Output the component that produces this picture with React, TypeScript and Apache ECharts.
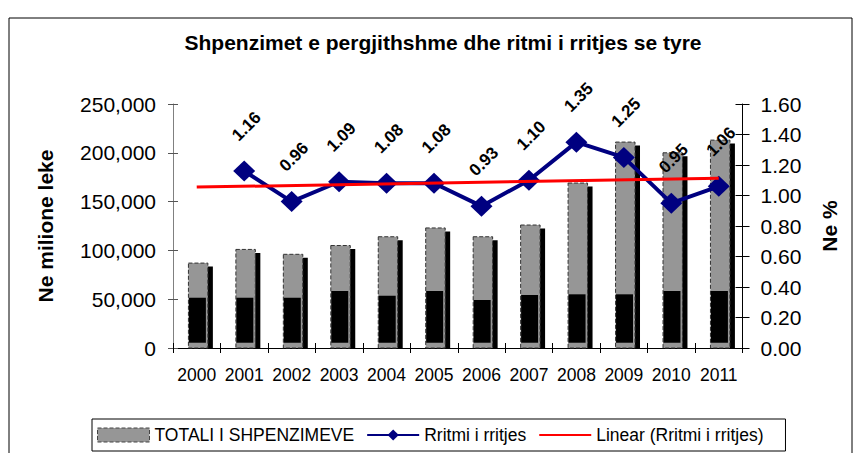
import React, { useEffect, useRef } from "react";
import * as echarts from "echarts";

const years = ["2000", "2001", "2002", "2003", "2004", "2005", "2006", "2007", "2008", "2009", "2010", "2011"];
const totalSpending = [87000, 101000, 96000, 105000, 114000, 123000, 114000, 126000, 169000, 211000, 200000, 213000];
const blackPart = [51500, 51500, 51500, 58400, 53600, 58400, 49200, 54300, 55000, 55000, 58400, 58400];
const baseStrip = [5400, 5400, 5400, 5400, 5400, 5400, 5400, 5400, 5400, 5400, 5400, 5400];
const growthRate: (number | string)[] = ["-", 1.16, 0.96, 1.09, 1.08, 1.08, 0.93, 1.1, 1.35, 1.25, 0.95, 1.06];
const trendLine: (number | string)[] = [1.055, "-", "-", "-", "-", "-", "-", "-", "-", "-", "-", 1.113];
const leftTicks = { min: 0, max: 250000, interval: 50000 };
const rightTicks = { min: 0, max: 1.6, interval: 0.2 };

const FONT = "Liberation Sans, Arial, sans-serif";

export default function App() {
  const ref = useRef<HTMLDivElement>(null);
  useEffect(() => {
    if (!ref.current) return;
    const chart = echarts.init(ref.current, undefined, { renderer: "svg" });
    const option: any = {
      animation: false,
      backgroundColor: "#fff",
      textStyle: { fontFamily: FONT },
      title: {
        text: "Shpenzimet e pergjithshme dhe ritmi i rritjes se tyre",
        left: 438,
        textAlign: "center",
        top: 27,
        textStyle: { fontFamily: FONT, fontSize: 21, fontWeight: "bold", color: "#000" },
      },
      graphic: [
        {
          type: "rect",
          shape: { x: 9, y: 18, width: 843, height: 460 },
          style: { fill: "none", stroke: "#000", lineWidth: 1 },
          silent: true,
          z: -1,
        },
      ],
      legend: {
        left: 92,
        top: 419,
        padding: [7, 22, 7, 5],
        borderColor: "#000",
        borderWidth: 1,
        itemGap: 12,
        itemWidth: 52,
        itemHeight: 14,
        selectedMode: false,
        textStyle: { fontFamily: FONT, fontSize: 17.5, color: "#000" },
        data: [
          {
            name: "TOTALI I SHPENZIMEVE",
            icon: "rect",
            itemStyle: { color: "#969696", borderColor: "#444", borderWidth: 1, borderType: "dashed" },
          },
          { name: "Rritmi i rritjes" },
          { name: "Linear (Rritmi i rritjes)", itemStyle: { opacity: 0 } },
        ],
      },
      grid: { left: 173, right: 115.5, top: 104, bottom: 105, containLabel: false },
      xAxis: [
        {
          type: "category",
          data: years,
          axisLine: { lineStyle: { color: "#000", width: 1 } },
          axisTick: { show: true, length: 5, interval: 0, lineStyle: { color: "#000" } },
          axisLabel: { fontFamily: FONT, fontSize: 17.5, color: "#000", margin: 18, interval: 0 },
        },
        {
          type: "category",
          data: years,
          position: "bottom",
          axisLine: { show: false },
          axisTick: { show: true, inside: true, length: 5, interval: 0, lineStyle: { color: "#000" } },
          axisLabel: { show: false },
        },
      ],
      yAxis: [
        {
          type: "value",
          ...leftTicks,
          position: "left",
          splitLine: { show: false },
          axisLine: { show: true, lineStyle: { color: "#808080" } },
          axisTick: { show: true, length: 5, lineStyle: { color: "#555" } },
          axisLabel: {
            fontFamily: FONT,
            fontSize: 21,
            color: "#000",
            margin: 17,
            formatter: (v: number) => v.toLocaleString("en-US"),
          },
          name: "Ne milione leke",
          nameLocation: "middle",
          nameRotate: 90,
          nameGap: 117,
          nameTextStyle: { fontFamily: FONT, fontSize: 21, fontWeight: "bold", color: "#000" },
        },
        {
          type: "value",
          ...rightTicks,
          position: "right",
          splitLine: { show: false },
          axisLine: { show: true, lineStyle: { color: "#000" } },
          axisTick: { show: true, length: 7, lineStyle: { color: "#000" } },
          axisLabel: {
            fontFamily: FONT,
            fontSize: 21,
            color: "#000",
            margin: 18,
            formatter: (v: number) => v.toFixed(2),
          },
          name: "Ne %",
          nameLocation: "middle",
          nameRotate: 90,
          nameGap: 76,
          nameTextStyle: { fontFamily: FONT, fontSize: 21, fontWeight: "bold", color: "#000" },
        },
        {
          type: "value",
          ...leftTicks,
          position: "left",
          splitLine: { show: false },
          axisLine: { show: false },
          axisTick: { show: true, inside: true, length: 5, lineStyle: { color: "#555" } },
          axisLabel: { show: false },
        },
        {
          type: "value",
          ...rightTicks,
          position: "right",
          splitLine: { show: false },
          axisLine: { show: false },
          axisTick: { show: true, inside: true, length: 7, lineStyle: { color: "#000" } },
          axisLabel: { show: false },
        },
      ],
      series: [
        {
          name: "TOTALI I SHPENZIMEVE",
          type: "custom",
          xAxisIndex: 0,
          yAxisIndex: 0,
          itemStyle: { color: "#969696" },
          encode: { x: 0, y: 1 },
          data: years.map((_, i) => [i, totalSpending[i], blackPart[i], baseStrip[i]]),
          renderItem: (params: any, api: any) => {
            const idx = api.value(0);
            const top = api.coord([idx, api.value(1)]);
            const zero = api.coord([idx, 0]);
            const blk = api.coord([idx, api.value(2)]);
            const base = api.coord([idx, api.value(3)]);
            const band = api.size([1, 0])[0];
            const fw = band * 0.41;
            const fl = top[0] - band * 0.175;
            return {
              type: "group",
              children: [
                {
                  type: "rect",
                  shape: { x: fl + 5, y: top[1] + 3.5, width: fw, height: zero[1] - top[1] - 3.5 },
                  style: { fill: "#000" },
                },
                {
                  type: "rect",
                  shape: { x: fl, y: top[1], width: fw, height: zero[1] - top[1] },
                  style: { fill: "#969696", stroke: "#333", lineWidth: 1, lineDash: [4, 2] },
                },
                {
                  type: "rect",
                  shape: { x: fl + 0.5, y: blk[1], width: fw - 2.5, height: base[1] - blk[1] },
                  style: { fill: "#000" },
                },
              ],
            };
          },
          z: 1,
        },
        {
          name: "Rritmi i rritjes",
          type: "line",
          yAxisIndex: 1,
          data: growthRate,
          color: "#000080",
          lineStyle: { color: "#000080", width: 4 },
          itemStyle: { color: "#000080" },
          symbol: "diamond",
          symbolSize: [22, 21],
          z: 3,
          label: {
            show: true,
            position: "top",
            distance: 5,
            rotate: 45,
            align: "left",
            verticalAlign: "middle",
            offset: [5.7, -19],
            fontFamily: FONT,
            fontSize: 17,
            fontWeight: "bold",
            color: "#000",
            formatter: (p: any) => Number(p.value).toFixed(2),
          },
        },
        {
          name: "Linear (Rritmi i rritjes)",
          type: "line",
          yAxisIndex: 1,
          data: trendLine,
          connectNulls: true,
          color: "#ff0000",
          lineStyle: { color: "#ff0000", width: 3 },
          itemStyle: { color: "#ff0000" },
          symbol: "none",
          showSymbol: false,
          z: 4,
        },
      ],
    };
    chart.setOption(option);
    return () => chart.dispose();
  }, []);
  return (
    <div
      ref={ref}
      style={{ position: "absolute", left: 0, top: 0, width: 858, height: 453, background: "#fff" }}
    />
  );
}
